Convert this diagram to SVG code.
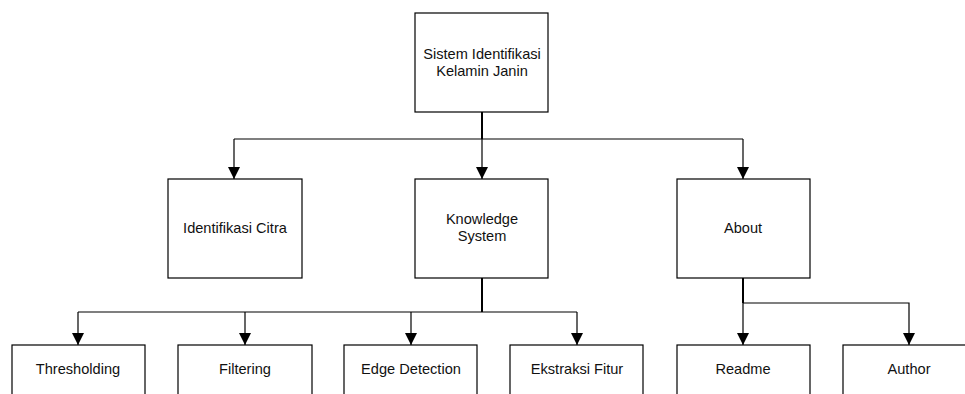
<svg xmlns="http://www.w3.org/2000/svg" width="965" height="394" viewBox="0 0 965 394">
  <style>
    .box { fill: #ffffff; stroke: #000000; stroke-width: 1.2; }
    .lbl { font-family: "Liberation Sans", Arial, sans-serif; font-size: 14.6px; fill: #111111; text-anchor: middle; }
    .ln { fill: none; stroke: #000000; stroke-width: 1.2; }
    .stem { fill: none; stroke: #000000; stroke-width: 2; }
  </style>
  <defs>
    <marker id="arrow" markerUnits="userSpaceOnUse" markerWidth="12" markerHeight="12" viewBox="0 0 12 12" refX="12" refY="6" orient="auto">
      <path d="M0,0 L12,6 L0,12 Z" fill="#000000"/>
    </marker>
  </defs>
  <rect width="965" height="394" fill="#ffffff"/>

  <g id="connectors">
    <!-- root to level 1 -->
    <path class="stem" d="M482,112 V139"/>
    <path class="ln" d="M234,139 H743"/>
    <path class="ln" d="M234,139 V179" marker-end="url(#arrow)"/>
    <path class="ln" d="M482,139 V179" marker-end="url(#arrow)"/>
    <path class="ln" d="M743,139 V179" marker-end="url(#arrow)"/>
    <!-- Knowledge System to processing steps -->
    <path class="stem" d="M482,278 V312"/>
    <path class="ln" d="M78,312 H577"/>
    <path class="ln" d="M78,312 V345" marker-end="url(#arrow)"/>
    <path class="ln" d="M245,312 V345" marker-end="url(#arrow)"/>
    <path class="ln" d="M411,312 V345" marker-end="url(#arrow)"/>
    <path class="ln" d="M577,312 V345" marker-end="url(#arrow)"/>
    <!-- About to Readme / Author -->
    <path class="stem" d="M743,278 V303"/>
    <path class="ln" d="M743,303 V345" marker-end="url(#arrow)"/>
    <path class="ln" d="M743,303 H909 V345" marker-end="url(#arrow)"/>
  </g>

  <g id="root">
    <rect class="box" x="415" y="13" width="133" height="99"/>
    <text class="lbl" x="482" y="59">Sistem Identifikasi</text>
    <text class="lbl" x="482" y="76">Kelamin Janin</text>
  </g>

  <g id="identifikasi-citra">
    <rect class="box" x="168" y="179" width="134" height="99"/>
    <text class="lbl" x="235" y="233">Identifikasi Citra</text>
  </g>

  <g id="knowledge-system">
    <rect class="box" x="415" y="179" width="133" height="99"/>
    <text class="lbl" x="482" y="224">Knowledge</text>
    <text class="lbl" x="482" y="241">System</text>
  </g>

  <g id="about">
    <rect class="box" x="677" y="179" width="133" height="99"/>
    <text class="lbl" x="743" y="233">About</text>
  </g>

  <g id="thresholding">
    <rect class="box" x="12" y="345" width="133" height="99"/>
    <text class="lbl" x="78" y="374">Thresholding</text>
  </g>

  <g id="filtering">
    <rect class="box" x="178" y="345" width="134" height="99"/>
    <text class="lbl" x="245" y="374">Filtering</text>
  </g>

  <g id="edge-detection">
    <rect class="box" x="344" y="345" width="133" height="99"/>
    <text class="lbl" x="411" y="374">Edge Detection</text>
  </g>

  <g id="ekstraksi-fitur">
    <rect class="box" x="510" y="345" width="133" height="99"/>
    <text class="lbl" x="577" y="374">Ekstraksi Fitur</text>
  </g>

  <g id="readme">
    <rect class="box" x="677" y="345" width="133" height="99"/>
    <text class="lbl" x="743" y="374">Readme</text>
  </g>

  <g id="author">
    <rect class="box" x="843" y="345" width="133" height="99"/>
    <text class="lbl" x="909" y="374">Author</text>
  </g>
</svg>
